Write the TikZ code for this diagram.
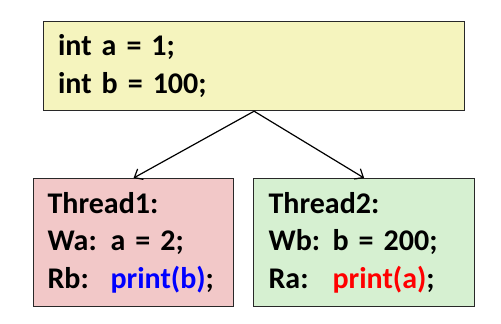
\documentclass[tikz,border=0pt]{standalone}
\usepackage{fontspec}
\setmainfont{Carlito}
\usetikzlibrary{arrows.meta,positioning}

\definecolor{initfill}{RGB}{245,244,190}
\definecolor{threadAfill}{RGB}{242,200,200}
\definecolor{threadBfill}{RGB}{214,240,209}
\definecolor{boxline}{RGB}{40,40,40}
\newcommand{\codefont}{\fontsize{30}{37.5}\selectfont\bfseries
  \spaceskip=5.5pt plus 1pt minus 1pt\relax}

\begin{document}
\begin{tikzpicture}[
  x=1pt, y=-1pt,
  >={Straight Barb[length=7pt,width=12pt]},
  every node/.style={font=\codefont},
  codebox/.style={draw=boxline, line width=1.2pt, anchor=north west,
                  align=left, inner xsep=14pt, inner ysep=0pt},
]
\useasboundingbox (0,0) rectangle (501,324);

\node[codebox, fill=initfill, minimum width=421pt, minimum height=89pt,
      text width=392pt] (init) at (43,21)
  {int a = 1;\\
   int b = 100;};
\node[codebox, fill=threadAfill, minimum width=200pt, minimum height=128pt,
      text width=172pt] (t1) at (33,178)
  {Thread1:\\
   \makebox[63pt][l]{Wa:}a = 2;\\
   \makebox[63pt][l]{Rb:}\textcolor{blue}{print(b)};};
\node[codebox, fill=threadBfill, minimum width=221pt, minimum height=128pt,
      text width=191pt] (t2) at (253,178)
  {Thread2:\\
   \makebox[64pt][l]{Wb:}b = 200;\\
   \makebox[64pt][l]{Ra:}\textcolor{red}{print(a)};};

% fork into the two threads
\draw[->, line width=1.2pt] (init.south) -- (t1.north);
\draw[->, line width=1.2pt] (init.south) -- (t2.north);
\end{tikzpicture}
\end{document}
